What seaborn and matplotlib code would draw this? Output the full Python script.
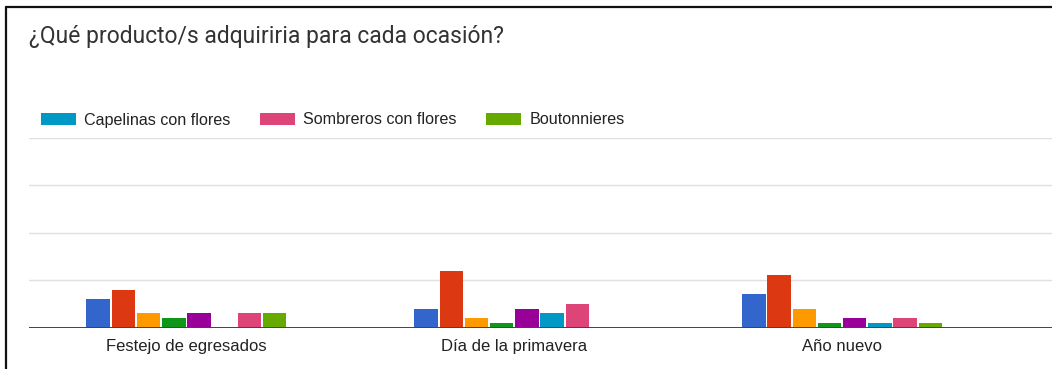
import matplotlib
matplotlib.use("Agg")
import matplotlib.pyplot as plt
import pandas as pd
import seaborn as sns
from matplotlib.patches import Patch
from matplotlib.lines import Line2D

# Occasions on the x axis
ocasiones = ["Festejo de egresados", "Día de la primavera", "Año nuevo"]

# Products (bar series) and their colours
productos = ["Producto 1", "Producto 2", "Producto 3", "Producto 4", "Producto 5",
             "Capelinas con flores", "Sombreros con flores", "Boutonnieres"]
colores = ["#3366cc", "#dc3912", "#ff9900", "#109618", "#990099",
           "#0099c6", "#dd4477", "#66aa00"]

# Number of answers per product, one list per occasion
festejo = [6, 8, 3, 2, 3, 0, 3, 3]
primavera = [4, 12, 2, 1, 4, 3, 5, 0]
anio_nuevo = [7, 11, 4, 1, 2, 1, 2, 1]

# Legend entries shown on the current legend page
leyenda_visible = ["Capelinas con flores", "Sombreros con flores", "Boutonnieres"]

titulo = "¿Qué producto/s adquiriria para cada ocasión?"

filas = []
for oc, valores in zip(ocasiones, [festejo, primavera, anio_nuevo]):
    for prod, v in zip(productos, valores):
        filas.append({"ocasion": oc, "producto": prod, "respuestas": v})
df = pd.DataFrame(filas)
paleta = dict(zip(productos, colores))

sns.set_theme(style="white")
plt.rcParams["font.family"] = ["Liberation Sans", "DejaVu Sans"]

W, H = 1052, 369
fig = plt.figure(figsize=(W / 100, H / 100), dpi=100)
fig.patch.set_facecolor("white")

ax = fig.add_axes([29 / W, (H - 327.7) / H, 1 - 29 / W, (327.7 - 137.5) / H])
sns.barplot(data=df, x="ocasion", y="respuestas", hue="producto",
            order=ocasiones, hue_order=productos, palette=paleta,
            width=0.615, gap=0.07, linewidth=0, saturation=1,
            legend=False, ax=ax)

ax.set_xlim(-0.48, 2.64)
ax.set_ylim(0, 40)
ax.set_yticks([0, 10, 20, 30, 40])
ax.set_yticklabels([])
ax.yaxis.grid(True, color="#e0e0e0", linewidth=1.0)
ax.set_axisbelow(True)
for s in ax.spines.values():
    s.set_visible(False)
ax.axhline(0, color="#444444", linewidth=1.4, zorder=5)
ax.set_xlabel("")
ax.set_ylabel("")
ax.tick_params(axis="both", length=0)
ax.tick_params(axis="x", pad=8, labelsize=12.0, labelcolor="#222222")

fig.text(29 / W, 1 - 37 / H, titulo, fontsize=16.5, color="#333333",
         ha="left", va="center", family=["Roboto", "DejaVu Sans"])

handles = [Patch(facecolor=paleta[p], edgecolor="none") for p in leyenda_visible]
fig.legend(handles, leyenda_visible, loc="center left",
           bbox_to_anchor=(41 / W, 1 - 120 / H), ncol=3, frameon=False,
           fontsize=11.6, labelcolor="#222222", handlelength=2.2,
           handleheight=0.8, handletextpad=0.5, columnspacing=1.8,
           borderpad=0, borderaxespad=0)

# Dark frame on the left and top edges
fig.add_artist(Line2D([6 / W, 6 / W], [0, 1 - 7 / H], color="#111111",
                      linewidth=1.6, transform=fig.transFigure))
fig.add_artist(Line2D([6 / W, 1], [1 - 7 / H, 1 - 7 / H], color="#111111",
                      linewidth=1.6, transform=fig.transFigure))

fig.savefig("out.png", dpi=100, facecolor="white")
